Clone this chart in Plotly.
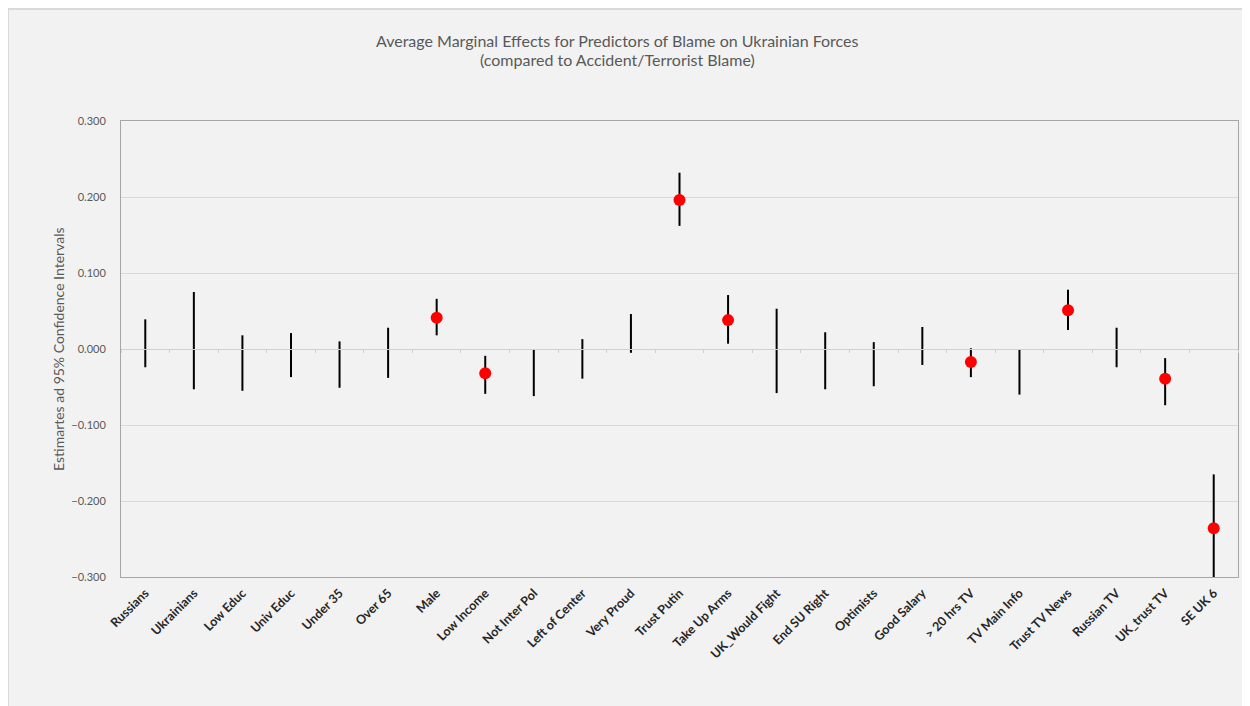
import plotly.graph_objects as go

categories = ["Russians", "Ukrainians", "Low Educ", "Univ Educ", "Under 35", "Over 65",
              "Male", "Low Income", "Not Inter Pol", "Left of Center", "Very Proud",
              "Trust Putin", "Take Up Arms", "UK_Would Fight", "End SU Right", "Optimists",
              "Good Salary", "> 20 hrs TV", "TV Main Info", "Trust TV News", "Russian TV",
              "UK_trust TV", "SE UK 6"]
ci_high = [0.039, 0.075, 0.018, 0.021, 0.010, 0.028, 0.066, -0.009, 0.000, 0.013, 0.046,
           0.232, 0.071, 0.053, 0.022, 0.009, 0.029, 0.001, 0.000, 0.078, 0.028, -0.012, -0.165]
ci_low = [-0.024, -0.053, -0.055, -0.037, -0.051, -0.038, 0.018, -0.059, -0.062, -0.039, -0.005,
          0.162, 0.007, -0.058, -0.053, -0.049, -0.021, -0.037, -0.060, 0.025, -0.024, -0.074, -0.310]
# point estimates shown only for significant predictors
estimates = [None, None, None, None, None, None, 0.041, -0.032, None, None, None,
             0.196, 0.038, None, None, None, None, -0.017, None, 0.051, None, -0.039, -0.236]
y_ticks = [-0.3, -0.2, -0.1, 0.0, 0.1, 0.2, 0.3]
title_lines = ["Average Marginal Effects for Predictors of Blame on Ukrainian Forces",
               "(compared to Accident/Terrorist Blame)"]

seg_x, seg_y = [], []
for c, lo, hi in zip(categories, ci_low, ci_high):
    seg_x += [c, c, None]
    seg_y += [lo, hi, None]

W, H = 1250, 706
# page body has an 8px margin; layout coordinates are figure-relative
L, R, T, B = 113, 1230, 113, 569
PW, PH = R - L, B - T

fig = go.Figure()
fig.add_trace(go.Scatter(x=seg_x, y=seg_y, mode="lines",
                         line=dict(color="black", width=2), hoverinfo="skip", showlegend=False))
fig.add_trace(go.Scatter(x=categories, y=estimates, mode="markers",
                         marker=dict(color="#ff0000", size=12), showlegend=False))
# invisible trace to anchor the zero-crossing category axis
fig.add_trace(go.Scatter(x=categories, y=[0] * len(categories), xaxis="x2", mode="markers",
                         marker=dict(opacity=0), hoverinfo="skip", showlegend=False))

font_family = "Lato, 'Open Sans', sans-serif"
gray_txt = "#595959"

fig.update_layout(
    width=W, height=H,
    margin=dict(l=L, r=W - R, t=T, b=H - B, autoexpand=False),
    paper_bgcolor="#f2f2f2",
    plot_bgcolor="#f2f2f2",
    font=dict(family=font_family, color=gray_txt),
    xaxis=dict(type="category", categoryarray=categories, categoryorder="array",
               range=[-0.5, len(categories) - 0.5],
               tickangle=-45, ticks="", showgrid=False, zeroline=False,
               showline=True, linecolor="#a6a6a6", linewidth=1, mirror=True,
               tickfont=dict(size=12.5, color="#262626", family=font_family, weight="bold"),
               ticklabelstandoff=3),
    xaxis2=dict(type="category", categoryarray=categories, categoryorder="array",
                range=[-0.5, len(categories) - 0.5], overlaying="x", anchor="free", position=0.5,
                side="bottom", showline=True, linecolor="#d0d0d0", linewidth=1,
                ticks="outside", ticklen=3, tickcolor="#d0d0d0", tickson="boundaries",
                showticklabels=False, showgrid=False, zeroline=False),
    yaxis=dict(range=[-0.3, 0.3], tickvals=y_ticks, tickformat=".3f",
               showgrid=True, gridcolor="#d9d9d9", gridwidth=1, zeroline=False,
               showline=True, linecolor="#a6a6a6", linewidth=1, mirror=True,
               ticks="", ticklabelstandoff=12,
               tickfont=dict(size=11, color=gray_txt)),
    shapes=[dict(type="rect", xref="paper", yref="paper", layer="below",
                 x0=(0 - L) / PW, x1=(W + 20 - L) / PW,
                 y0=(B - (H + 20)) / PH, y1=(B - 1) / PH,
                 fillcolor="rgba(0,0,0,0)", line=dict(color="#d9d9d9", width=2))],
)
# two-line title with tighter line spacing
for line, y_fig in zip(title_lines, [33, 52]):
    fig.add_annotation(text=line, xref="paper", yref="paper",
                       x=(609 - L) / PW, y=(B - y_fig) / PH, showarrow=False,
                       xanchor="center", yanchor="middle",
                       font=dict(size=16, color=gray_txt))
fig.add_annotation(text="Estimartes ad 95% Confidence Intervals", xref="paper", yref="paper",
                   x=(50 - L) / PW, y=0.5, textangle=-90, showarrow=False,
                   font=dict(size=14, color=gray_txt), xanchor="center", yanchor="middle")

fig.write_html("out.html")
